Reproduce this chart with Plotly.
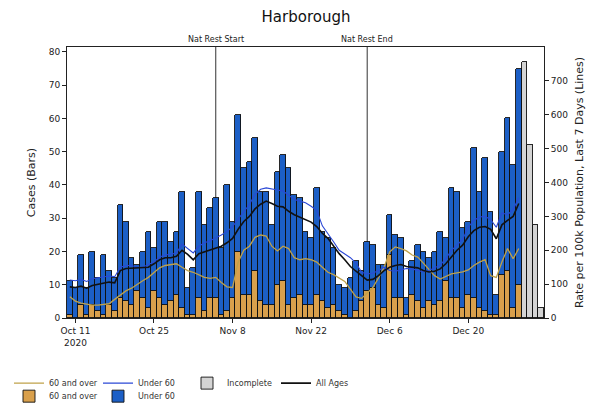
import plotly.graph_objects as go
import pandas as pd

# ---- data ----
dates = pd.date_range("2020-10-10", periods=81, freq="D")
incomplete_dates = pd.date_range("2020-12-30", periods=4, freq="D")

over60_cases = [1, 0, 4, 1, 4, 2, 1, 4, 2, 6,
                5, 4, 8, 6, 3, 8, 6, 4, 5, 7,
                3, 1, 1, 6, 2, 6, 6, 1, 2, 6,
                20, 7, 7, 14, 5, 4, 4, 10, 11, 4,
                6, 7, 4, 4, 7, 5, 3, 4, 2, 1,
                0, 2, 5, 8, 9, 4, 3, 19, 6, 6,
                1, 7, 5, 3, 5, 4, 5, 11, 6, 6,
                3, 7, 6, 3, 2, 1, 1, 13, 14, 3,
                10]
under60_cases = [10, 9, 15, 8, 16, 10, 18, 10, 10, 28,
                 24, 14, 8, 14, 23, 13, 23, 25, 18, 19,
                 35, 8, 14, 32, 26, 27, 30, 20, 38, 23,
                 41, 38, 40, 40, 33, 34, 24, 34, 38, 41,
                 31, 29, 22, 20, 32, 21, 21, 17, 8, 8,
                 12, 15, 9, 15, 13, 12, 13, 12, 19, 18,
                 5, 10, 17, 17, 13, 16, 21, 13, 33, 32,
                 24, 22, 45, 35, 46, 31, 6, 37, 46, 43,
                 65]
incomplete_cases = [77, 52, 28, 3]

rate_over60 = [63, 50, 44, 40, 38, 38, 40, 42, 55, 68,
               80, 88, 100, 110, 120, 135, 148, 155, 158, 160,
               150, 140, 135, 127, 120, 117, 120, 105, 92, 90,
               165, 200, 212, 238, 245, 242, 212, 198, 212, 205,
               178, 172, 175, 172, 165, 150, 135, 128, 118, 108,
               85, 62, 58, 75, 90, 118, 150, 195, 210, 205,
               198, 186, 180, 162, 145, 125, 115, 122, 130, 133,
               136, 142, 155, 165, 172, 125, 120, 165, 205, 175,
               205]
rate_under60 = [112, 110, 114, 108, 116, 118, 122, 124, 122, 150,
                155, 155, 150, 150, 158, 165, 180, 186, 188, 192,
                218, 205, 192, 212, 222, 228, 236, 245, 255, 270,
                292, 315, 335, 365, 380, 384, 382, 378, 375, 362,
                350, 345, 340, 330, 318, 272, 250, 225, 200, 188,
                178, 162, 135, 130, 132, 140, 150, 140, 138, 142,
                146, 145, 140, 136, 140, 148, 156, 175, 200, 215,
                232, 268, 288, 298, 300, 290, 268, 310, 305, 320,
                355]
rate_all = [92, 90, 94, 88, 96, 100, 104, 106, 104, 140,
            146, 147, 146, 148, 150, 160, 172, 178, 178, 182,
            200, 188, 172, 190, 196, 200, 206, 212, 222, 235,
            262, 285, 300, 322, 336, 345, 338, 330, 328, 315,
            305, 298, 292, 283, 270, 250, 235, 212, 190, 172,
            152, 138, 125, 112, 114, 125, 140, 150, 155, 158,
            152, 150, 148, 140, 136, 138, 145, 160, 180, 200,
            215, 240, 258, 268, 270, 262, 234, 275, 288, 300,
            338]

tick_dates = ["2020-10-11", "2020-10-25", "2020-11-08", "2020-11-22", "2020-12-06", "2020-12-20"]
tick_labels = ["Oct 11<br>2020", "Oct 25", "Nov 8", "Nov 22", "Dec 6", "Dec 20"]
events = [("2020-11-05", "Nat Rest Start"), ("2020-12-02", "Nat Rest End")]

TAN = "#d9a04c"
BLUE = "#1c5fc6"
TAN_LINE = "#bfa24a"
BLUE_LINE = "#2b48d6"
FONT = "DejaVu Sans"

fig = go.Figure()
edge = dict(color="#111111", width=0.9)

fig.add_trace(go.Bar(x=dates, y=over60_cases, name="60 and over", marker=dict(color=TAN, line=edge),
                     legend="legend2", legendrank=1))
fig.add_trace(go.Bar(x=dates, y=under60_cases, name="Under 60", marker=dict(color=BLUE, line=edge),
                     legend="legend2", legendrank=2))
fig.add_trace(go.Bar(x=incomplete_dates, y=incomplete_cases, name="Incomplete",
                     marker=dict(color="#d4d4d4", line=edge), legend="legend", legendrank=3))

fig.add_trace(go.Scatter(x=dates, y=rate_over60, name="60 and over", mode="lines", yaxis="y2",
                         line=dict(color=TAN_LINE, width=1.3), legend="legend", legendrank=1))
fig.add_trace(go.Scatter(x=dates, y=rate_under60, name="Under 60", mode="lines", yaxis="y2",
                         line=dict(color=BLUE_LINE, width=1.1), legend="legend", legendrank=2))
fig.add_trace(go.Scatter(x=dates, y=rate_all, name="All Ages", mode="lines", yaxis="y2",
                         line=dict(color="#111111", width=1.6), legend="legend", legendrank=4))

shapes = []
annotations = []
for d, label in events:
    shapes.append(dict(type="line", xref="x", yref="paper", x0=d, x1=d, y0=0, y1=1,
                       line=dict(color="#555555", width=1.2), layer="below"))
    annotations.append(dict(x=d, y=1, xref="x", yref="paper", text=label, showarrow=False,
                            yanchor="bottom", yshift=1, font=dict(size=8, color="#222")))

leg_common = dict(orientation="h", xref="container", yref="container", xanchor="left",
                  yanchor="middle", font=dict(size=8, color="#333", family=FONT),
                  itemwidth=30, bgcolor="rgba(0,0,0,0)", traceorder="normal",
                  entrywidth=44, entrywidthmode="pixels")

fig.update_layout(
    width=600, height=408, autosize=False,
    margin=dict(l=67, r=56, t=47, b=90, autoexpand=False),
    paper_bgcolor="white", plot_bgcolor="white",
    font=dict(family=FONT, color="#222"),
    barmode="stack", bargap=0,
    title=dict(text="Harborough", x=0.51, xanchor="center", y=0.958, yref="container",
               yanchor="middle", font=dict(size=15, color="#111")),
    xaxis=dict(type="date", range=["2020-10-09 12:00", "2021-01-02 12:00"], automargin=False,
               tickvals=tick_dates, ticktext=tick_labels, tickfont=dict(size=9),
               showline=True, linecolor="#222", linewidth=1, mirror=True,
               ticks="outside", ticklen=4, tickcolor="#222", showgrid=False, zeroline=False),
    yaxis=dict(range=[0, 81.5], tickvals=list(range(0, 81, 10)), tickfont=dict(size=9),
               automargin=False,
               title=dict(text="Cases (Bars)", font=dict(size=11), standoff=10),
               showline=True, linecolor="#222", linewidth=1, ticks="outside", ticklen=4,
               tickcolor="#222", showgrid=False, zeroline=False),
    yaxis2=dict(range=[0, 800], tickvals=list(range(0, 701, 100)), tickfont=dict(size=9),
                overlaying="y", side="right", automargin=False,
                title=dict(text="Rate per 100k Population, Last 7 Days (Lines)", font=dict(size=11), standoff=8),
                showline=True, linecolor="#222", linewidth=1, ticks="outside", ticklen=4,
                tickcolor="#222", showgrid=False, zeroline=False),
    legend=dict(x=0.015, y=0.061, **leg_common),
    legend2=dict(x=0.015, y=0.029, **leg_common),
    shapes=shapes, annotations=annotations,
    showlegend=True,
)

fig.write_html("out.html", config={"displayModeBar": False},
               post_script="document.body.style.margin='0';")
